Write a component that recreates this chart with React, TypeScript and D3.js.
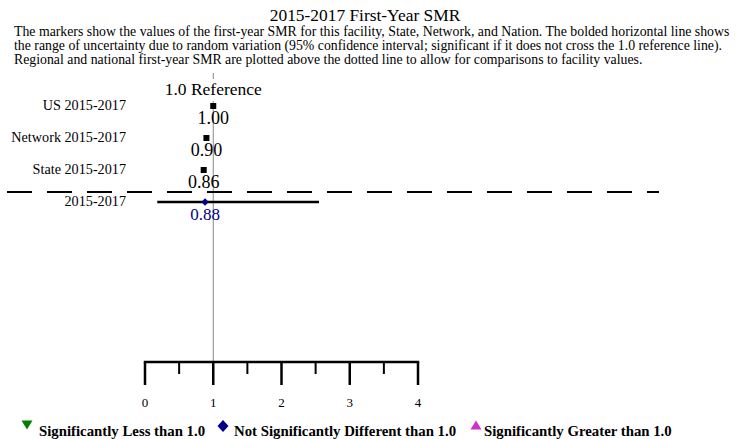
import { useEffect } from 'react';
import * as d3 from 'd3';

const title = '2015-2017 First-Year SMR';
const descLines = [
    'The markers show the values of the first-year SMR for this facility, State, Network, and Nation. The bolded horizontal line shows',
    'the range of uncertainty due to random variation (95% confidence interval; significant if it does not cross the 1.0 reference line).',
    'Regional and national first-year SMR are plotted above the dotted line to allow for comparisons to facility values.',
];

const rowLabels = ['US 2015-2017', 'Network 2015-2017', 'State 2015-2017', '2015-2017'];
const smrValues = [1.0, 0.9, 0.86, 0.88];
const facilityCi = [0.18, 2.55];
const majorTicks = [0, 1, 2, 3, 4];
const minorTicks = [0.5, 1.5, 2.5, 3.5];
const legendItems = [
    { label: 'Significantly Less than 1.0', shape: 'down', color: '#008000' },
    { label: 'Not Significantly Different than 1.0', shape: 'diamond', color: '#00008B' },
    { label: 'Significantly Greater than 1.0', shape: 'up', color: '#CC33CC' },
];

const W = 746;
const H = 439;
const font = '"Liberation Serif", "Times New Roman", serif';

// small legend glyphs
const shapePath = (shape: string) => {
    if (shape === 'down') return 'M-5.5,-4.5L5.5,-4.5L0,4.5Z';
    if (shape === 'up') return 'M-5.5,4.5L5.5,4.5L0,-4.5Z';
    return 'M0,-6L5.5,0L0,6L-5.5,0Z';
};

export default function App() {
    useEffect(() => {
        document.body.style.margin = '0';
    }, []);

    const x = d3.scaleLinear().domain([0, 4]).range([145, 418]);
    const y = d3.scalePoint<string>().domain(rowLabels).range([106, 202]);
    const axisY = 362;
    const facility = rowLabels[rowLabels.length - 1];
    const dashY = y(facility)! - 10;

    const legendMarkX = [27, 223, 476];
    const legendTextX = [39, 234, 484];

    return (
        <svg width={W} height={H} style={{ display: 'block', background: '#fff' }} fontFamily={font}>
            <text x={365} y={21} textAnchor="middle" fontSize={17.4}>{title}</text>
            {descLines.map((l, i) => (
                <text key={i} x={14} y={36 + i * 14} fontSize={13.8}>{l}</text>
            ))}

            {/* reference line */}
            <line x1={x(1)} x2={x(1)} y1={73} y2={79} stroke="#888" strokeWidth={1} />
            <line x1={x(1)} x2={x(1)} y1={101} y2={axisY} stroke="#888" strokeWidth={1} />
            <text x={x(1)} y={95} textAnchor="middle" fontSize={17.5}>1.0 Reference</text>

            {/* separator between comparison rows and facility */}
            <line x1={7} x2={659} y1={dashY} y2={dashY} stroke="#000" strokeWidth={2} strokeDasharray="25 15" />

            {/* CI for facility */}
            <line x1={x(facilityCi[0])} x2={x(facilityCi[1])} y1={y(facility)} y2={y(facility)} stroke="#000" strokeWidth={2.5} />

            {rowLabels.map((r, i) => {
                const cy = y(r)!;
                const cx = x(smrValues[i]);
                const isFac = r === facility;
                return (
                    <g key={r}>
                        <text x={126} y={cy + 4} textAnchor="end" fontSize={14.2}>{r}</text>
                        {isFac ? (
                            <path d="M0,-3.8L3.8,0L0,3.8L-3.8,0Z" transform={`translate(${cx},${cy})`} fill="#00008B" />
                        ) : (
                            <rect x={cx - 3} y={cy - 3} width={6} height={6} fill="#000" />
                        )}
                        <text x={cx} y={cy + 18} textAnchor="middle" fontSize={isFac ? 17 : 18} fill={isFac ? '#00008B' : '#000'}>
                            {smrValues[i].toFixed(2)}
                        </text>
                    </g>
                );
            })}

            {/* axis */}
            <line x1={x(0) - 1.2} x2={x(4) + 1.2} y1={axisY} y2={axisY} stroke="#000" strokeWidth={2.5} />
            {majorTicks.map(t => (
                <g key={t}>
                    <line x1={x(t)} x2={x(t)} y1={axisY} y2={385} stroke="#000" strokeWidth={2.5} />
                    <text x={x(t)} y={407} textAnchor="middle" fontSize={13}>{t}</text>
                </g>
            ))}
            {minorTicks.map(t => (
                <line key={t} x1={x(t)} x2={x(t)} y1={axisY} y2={374} stroke="#000" strokeWidth={2} />
            ))}

            {/* legend */}
            {legendItems.map((item, i) => (
                <g key={item.label}>
                    <path d={shapePath(item.shape)} transform={`translate(${legendMarkX[i]},${item.shape === 'diamond' ? 426 : 425})`} fill={item.color} />
                    <text x={legendTextX[i]} y={436} fontSize={14.8} fontWeight="bold">{item.label}</text>
                </g>
            ))}
        </svg>
    );
}
